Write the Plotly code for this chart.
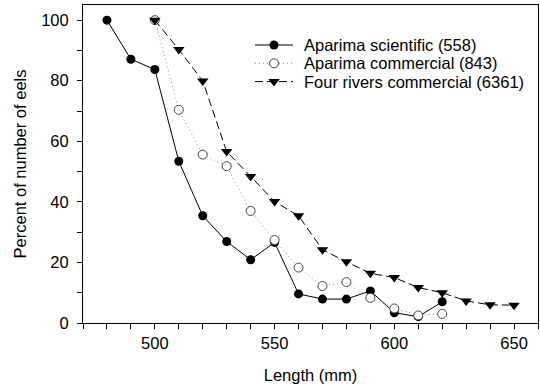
import plotly.graph_objects as go

# Eel length distributions: percent of eels at or above each length
len_sci = [480, 490, 500, 510, 520, 530, 540, 550, 560, 570, 580, 590, 600, 610, 620]
pct_sci = [100, 87.1, 83.7, 53.4, 35.4, 26.9, 20.9, 26.6, 9.6, 7.9, 7.9, 10.6, 3.4, 2.1, 7.0]

len_com = [500, 510, 520, 530, 540, 550, 560, 570, 580, 590, 600, 610, 620]
pct_com = [100, 70.4, 55.6, 51.8, 37.0, 27.4, 18.3, 12.2, 13.5, 8.3, 4.8, 2.5, 3.0]

len_four = [500, 510, 520, 530, 540, 550, 560, 570, 580, 590, 600, 610, 620, 630, 640, 650]
pct_four = [100, 90.3, 79.9, 56.6, 48.4, 40.1, 35.4, 24.2, 20.2, 16.4, 15.0, 11.7, 10.0, 7.3, 6.0, 5.9]

names = ["Aparima scientific (558)", "Aparima commercial (843)", "Four rivers commercial (6361)"]

x_ticks = list(range(470, 661, 10))
x_labels = [str(v) if v in (500, 550, 600, 650) else "" for v in x_ticks]
y_ticks = list(range(0, 101, 10))
y_labels = [str(v) if v % 20 == 0 else "" for v in y_ticks]

FONT = "Liberation Sans, Arial, sans-serif"
FS = 16.5

# series styles
styles = [
    dict(line=dict(color="black", width=1),
         marker=dict(symbol="circle", size=9, color="black", line=dict(width=0))),
    dict(line=dict(color="#888888", width=1, dash="1px,3px"),
         marker=dict(symbol="circle", size=9, color="white", line=dict(color="#444444", width=1))),
    dict(line=dict(color="black", width=1, dash="8px,4px"),
         marker=dict(symbol="triangle-down", size=10, color="black", line=dict(width=0))),
]
series = [(len_sci, pct_sci), (len_com, pct_com), (len_four, pct_four)]

fig = go.Figure()
for (xs, ys), name, st in zip(series, names, styles):
    fig.add_trace(go.Scatter(x=xs, y=ys, name=name, mode="lines+markers",
                             showlegend=False, **st))

# compact key drawn on an overlay axis spanning the plot area (0..1 each way)
W, H = 540, 389
ML, MR, MT, MB = 83, 2, 5, 66
pw, ph = W - ML - MR, H - MT - MB
def px_x(p):
    return (p - ML) / pw
def px_y(p):
    return (H - MB - p) / ph

key_top, key_step = 45, 18.3
key_x0, key_xm, key_x1, key_text = 255, 274, 293, 302
for i, (name, st) in enumerate(zip(names, styles)):
    yy = px_y(key_top + key_step * i)
    fig.add_trace(go.Scatter(
        x=[px_x(key_x0), px_x(key_x1)], y=[yy, yy], mode="lines",
        line=st["line"], xaxis="x2", yaxis="y2", showlegend=False, hoverinfo="skip"))
    fig.add_trace(go.Scatter(
        x=[px_x(key_xm)], y=[yy], mode="markers",
        marker=st["marker"], xaxis="x2", yaxis="y2", showlegend=False, hoverinfo="skip"))
    fig.add_annotation(x=px_x(key_text), y=yy, xref="x2", yref="y2", text=name,
                       showarrow=False, xanchor="left", yanchor="middle",
                       font=dict(family=FONT, size=FS, color="black"))

axis_common = dict(
    showline=True, linecolor="black", linewidth=1, mirror=True,
    ticks="outside", ticklen=5, tickcolor="black", tickwidth=1,
    showgrid=False, zeroline=False,
    tickfont=dict(family=FONT, size=FS, color="black"),
)

fig.update_layout(
    width=W, height=H,
    margin=dict(l=ML, r=MR, t=MT, b=MB),
    paper_bgcolor="white", plot_bgcolor="white",
    font=dict(family=FONT, size=FS, color="black"),
    xaxis=dict(
        range=[470, 660], tickmode="array", tickvals=x_ticks, ticktext=x_labels,
        title=dict(text="Length (mm)", font=dict(family=FONT, size=FS), standoff=18),
        **axis_common,
    ),
    yaxis=dict(
        range=[0, 105], tickmode="array", tickvals=y_ticks, ticktext=y_labels,
        ticklabelstandoff=5,
        title=dict(text="Percent of number of eels", font=dict(family=FONT, size=FS), standoff=10),
        **axis_common,
    ),
    xaxis2=dict(range=[0, 1], overlaying="x", visible=False, fixedrange=True),
    yaxis2=dict(range=[0, 1], overlaying="y", visible=False, fixedrange=True),
    showlegend=False,
)

fig.write_html("out.html")
